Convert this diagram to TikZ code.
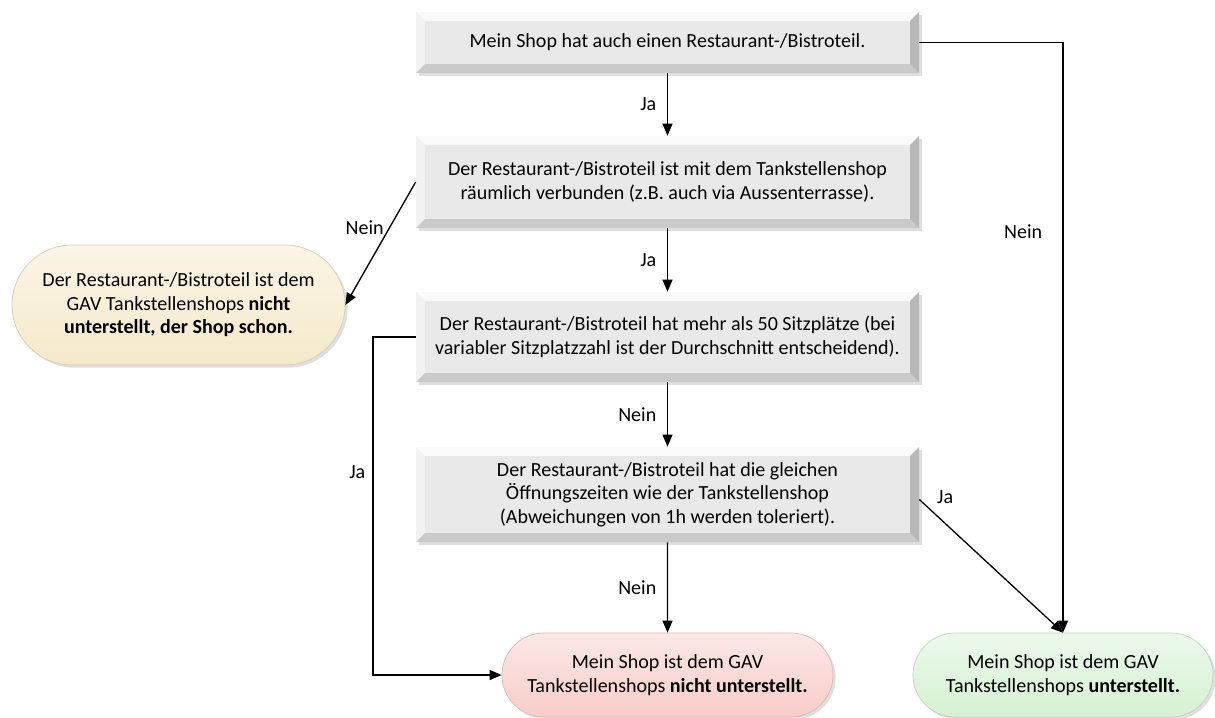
\documentclass[tikz,border=0pt]{standalone}
\usepackage{fontspec}
\setmainfont{Carlito}
\usetikzlibrary{shapes.misc,shadows,arrows.meta}

\definecolor{boxmid}{RGB}{233,233,233}
\definecolor{boxtop}{RGB}{250,250,250}
\definecolor{boxleft}{RGB}{242,242,242}
\definecolor{boxbottom}{RGB}{202,202,202}
\definecolor{boxright}{RGB}{184,184,184}
\definecolor{ovalyellow}{RGB}{245,233,202}
\definecolor{ovalred}{RGB}{248,204,201}
\definecolor{ovalgreen}{RGB}{213,241,210}

% bevel of the question boxes
\newcommand\bevw{5pt}
\newcommand\bevelfaces{%
  \coordinate (pnw) at (path picture bounding box.north west);
  \coordinate (pne) at (path picture bounding box.north east);
  \coordinate (psw) at (path picture bounding box.south west);
  \coordinate (pse) at (path picture bounding box.south east);
  \fill[boxtop] (pnw) -- (pne) -- ([shift={(-\bevw,-\bevw)}]pne) -- ([shift={(\bevw,-\bevw)}]pnw) -- cycle;
  \fill[boxleft] (pnw) -- (psw) -- ([shift={(\bevw,\bevw)}]psw) -- ([shift={(\bevw,-\bevw)}]pnw) -- cycle;
  \fill[boxbottom] (psw) -- (pse) -- ([shift={(-\bevw,\bevw)}]pse) -- ([shift={(\bevw,\bevw)}]psw) -- cycle;
  \fill[boxright] (pne) -- (pse) -- ([shift={(-\bevw,\bevw)}]pse) -- ([shift={(-\bevw,-\bevw)}]pne) -- cycle;
}

\tikzset{
  txt/.style={font=\fontsize{11.4}{13.4}\selectfont},
  question/.style={txt, rectangle, inner sep=0pt, minimum width=10.06cm, align=center,
    fill=boxmid, path picture={\bevelfaces},
    drop shadow={shadow xshift=1.5pt, shadow yshift=-1.5pt, opacity=0.25}},
  answer/.style={txt, rounded rectangle, inner sep=0pt, align=center, line width=0.4pt,
    drop shadow={shadow xshift=1.5pt, shadow yshift=-1.5pt, opacity=0.25}},
  flow/.style={-{Triangle[length=2.4mm,width=2mm]}, line width=0.75pt},
  tag/.style={txt, inner sep=2pt}
}

\begin{document}
\begin{tikzpicture}
  \useasboundingbox (0,0) rectangle (24.3,-14.34);

  % the four questions
  \node (shop) at (13.35,-0.85)[question, minimum height=1.22cm]
    {Mein Shop hat auch einen Restaurant-/Bistroteil.};
  \node (linked) at (13.35,-3.64)[question, minimum height=1.84cm]
    {Der Restaurant-/Bistroteil ist mit dem Tankstellenshop\\räumlich verbunden (z.B. auch via Aussenterrasse).};
  \node (seats) at (13.35,-6.74)[question, minimum height=1.8cm]
    {Der Restaurant-/Bistroteil hat mehr als 50 Sitzplätze (bei\\variabler Sitzplatzzahl ist der Durchschnitt entscheidend).};
  \node (hours) at (13.35,-9.89)[question, minimum height=1.9cm]
    {Der Restaurant-/Bistroteil hat die gleichen\\Öffnungszeiten wie der Tankstellenshop\\(Abweichungen von 1h werden toleriert).};

  % the three results
  \node (bistrofree) at (3.57,-6.1)[answer, minimum width=6.66cm, minimum height=2.4cm,
    top color=ovalyellow!45!white, bottom color=ovalyellow, draw=ovalyellow!75!gray]
    {Der Restaurant-/Bistroteil ist dem\\GAV Tankstellenshops \textbf{nicht}\\\textbf{unterstellt, der Shop schon.}};
  \node (notsubject) at (13.35,-13.5)[answer, minimum width=6.62cm, minimum height=1.68cm,
    top color=ovalred!45!white, bottom color=ovalred, draw=ovalred!75!gray]
    {Mein Shop ist dem GAV\\Tankstellenshops \textbf{nicht unterstellt.}};
  \node (subject) at (21.26,-13.5)[answer, minimum width=6.0cm, minimum height=1.68cm,
    top color=ovalgreen!45!white, bottom color=ovalgreen, draw=ovalgreen!75!gray]
    {Mein Shop ist dem GAV\\Tankstellenshops \textbf{unterstellt.}};

  % helper corner of the left loop
  \coordinate (loop) at (7.46,-13.5);

  % straight down the middle
  \draw[flow] (shop) -- node[tag, left=4pt]{Ja} (linked);
  \draw[flow] (linked) -- node[tag, left=4pt]{Ja} (seats);
  \draw[flow] (seats) -- node[tag, left=4pt]{Nein} (hours);
  \draw[flow] (hours) -- node[tag, left=4pt]{Nein} (notsubject);

  % the side branches
  \draw[flow] (shop.east) -| node[tag, pos=0.66, left=9.5pt]{Nein} (subject.north);
  \draw[flow] (linked.west) -- node[tag, pos=0.37, left=1pt]{Nein} (bistrofree.east);
  \draw[flow] (seats.west) -| node[tag, pos=0.7, left=2pt]{Ja} (loop) -- (notsubject.west);
  \draw[flow] ([yshift=-0.1cm]hours.east) -- node[tag, pos=0.18, above=9pt]{Ja} (subject.north);
\end{tikzpicture}
\end{document}
